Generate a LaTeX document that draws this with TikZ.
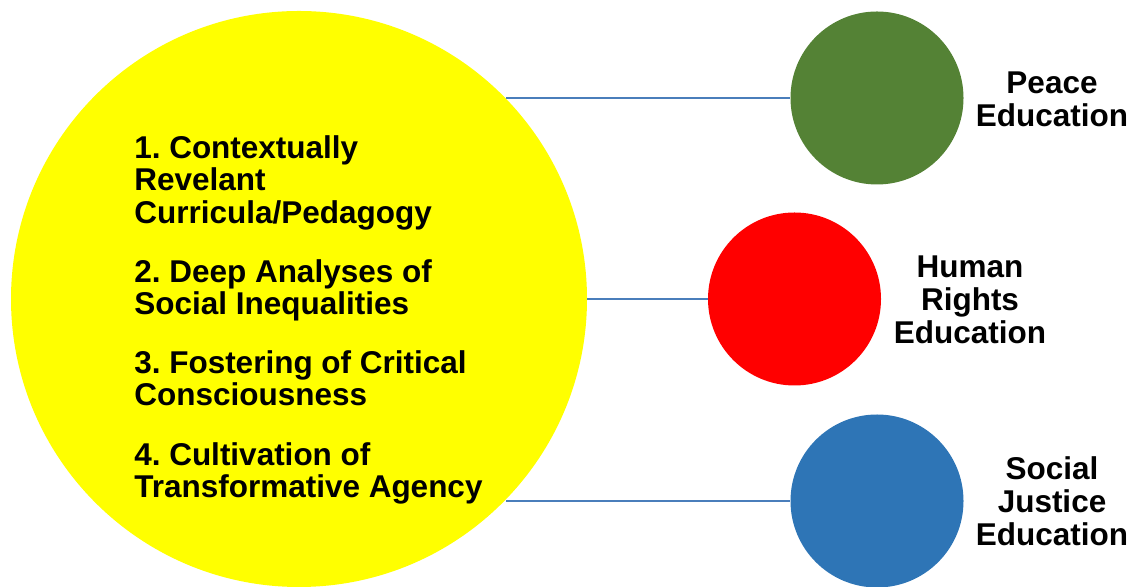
\documentclass[tikz,border=0pt]{standalone}
\usepackage{fontspec}
\setmainfont{Liberation Sans}
\usepackage{tikz}
\frenchspacing
\definecolor{Y}{RGB}{255, 255, 0}
\definecolor{G}{RGB}{84, 130, 53}
\definecolor{R}{RGB}{255, 0, 0}
\definecolor{B}{RGB}{46, 117, 182}
\definecolor{L}{RGB}{74, 126, 187}
\tikzset{
  bola/.style={circle, inner sep=0pt, minimum size=4.325cm},
  punto/.style={anchor=north west, inner sep=0pt, align=left,
    font=\fontsize{22.4}{23.1}\selectfont\bfseries},
  etiqueta/.style={inner sep=0pt, align=center,
    font=\fontsize{22.4}{23.6}\selectfont\bfseries},
  linea/.style={draw=L, line width=1.4pt}
}

\begin{document}
\begin{tikzpicture}
    \useasboundingbox (0,0) rectangle (28.525,14.675);

	%Circulo amarillo (centro)
    \node[circle, inner sep=0pt, minimum size=14.4cm, fill=Y] (core) at (7.475,7.2) {};

	%Los tres circulos de la derecha
    \node[bola, fill=G] (peace) at (21.925,12.225) {};
    \node[bola, fill=R] (rights) at (19.8625,7.2) {};
    \node[bola, fill=B] (justice) at (21.925,2.15) {};

	%Lineas (horizontales)
    \draw[linea] (peace.west -| core.44.26) -- (peace.west);
    \draw[linea] (core.east) -- (rights.west);
    \draw[linea] (justice.west -| core.-44.5) -- (justice.west);

	%Lista dentro del circulo amarillo
    \node[punto] (p1) at (3.35,11.3) {1. Contextually\\Revelant\\Curricula/Pedagogy};
    \node[punto] (p2) at (3.35,8.2) {2. Deep Analyses of\\Social Inequalities};
    \node[punto] (p3) at (3.35,5.925) {3. Fostering of Critical\\Consciousness};
    \node[punto] (p4) at (3.35,3.625) {4. Cultivation of\\Transformative Agency};

	%Etiquetas
    \node[etiqueta] (lpeace) at (26.3,12.2) {Peace\\Education};
    \node[etiqueta] (lrights) at (24.25,7.175) {Human\\Rights\\Education};
    \node[etiqueta] (ljustice) at (26.3,2.15) {Social\\Justice\\Education};
\end{tikzpicture}
\end{document}
